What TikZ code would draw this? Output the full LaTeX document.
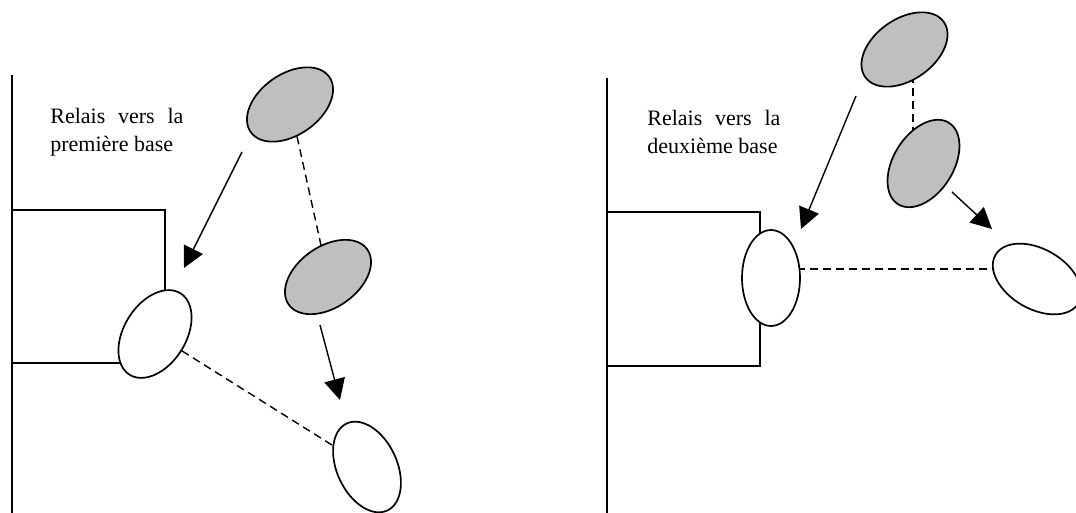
\documentclass[tikz,border=0pt]{standalone}
\usepackage{fontspec}
\setmainfont{Liberation Serif}
\usetikzlibrary{shapes.geometric,arrows.meta,backgrounds}

\begin{document}
\begin{tikzpicture}[x=0.5pt, y=-0.5pt,
  every node/.style={inner sep=0pt},
  obj/.style={draw, ellipse, line width=0.85pt, minimum width=48pt, minimum height=30.5pt},
  busy/.style={obj, fill=gray!50},
  free/.style={obj, fill=white},
  wall/.style={line width=0.7pt},
  link/.style={line width=0.7pt, dash pattern=on 4pt off 2.5pt},
  move/.style={line width=0.7pt, -{Triangle[length=10.5pt, width=10.5pt]}},
  note/.style={text width=66.5pt, align=justify, anchor=north west,
    font={\fontsize{11}{14}\selectfont\tolerance=9999\hbadness=10000}}]
\useasboundingbox (0,0) rectangle (1076,513);
% first base
\draw[wall] (12,75) -- (12,513);
\draw[wall] (12,210) rectangle (165,363);
\node[note] (txt1) at (50,108) {Relais vers la première base};
\node[busy, rotate=35] (g1) at (290,104.5) {};
\node[busy, rotate=35] (g2) at (328,277) {};
\node[free, rotate=58, minimum height=31pt] (w1) at (155,334) {};
\node[free, rotate=-65, minimum height=30pt] (w3) at (367,467) {};
\coordinate (s1) at (242,152);
\coordinate (e1) at (184,268);
\coordinate (s2) at (320,325);
\coordinate (e2) at (340,400);
\draw[move] (s1) -- (e1);
\draw[move] (s2) -- (e2);
\draw[link] (g1) -- (g2);
\draw[link] (w1) -- (w3);
% second base
\draw[wall] (607,78) -- (607,513);
\draw[wall] (607,212) rectangle (760,366);
\node[note] (txt2) at (647,110) {Relais vers la deuxième base};
\node[busy, rotate=35] (g3) at (904.5,49.5) {};
\node[busy, rotate=58, minimum height=30pt] (g4) at (923.5,163.5) {};
\node[free, minimum width=29pt, minimum height=48pt] (w2) at (771,278) {};
\node[free, rotate=-30, minimum height=30pt] (w4) at (1037,279) {};
\coordinate (s3) at (856,96);
\coordinate (e3) at (801,229);
\coordinate (s4) at (952,192);
\coordinate (e4) at (992,229);
\draw[move] (s3) -- (e3);
\draw[move] (s4) -- (e4);
\begin{pgfonlayer}{background}
\draw[link] ([xshift=4.25pt]g3.center) -- ([xshift=4.25pt]g3.center |- g4.center);
\draw[link] ([yshift=4.5pt]w2.center) -- ([yshift=4.5pt]w2.center -| w4.center);
\end{pgfonlayer}
\end{tikzpicture}
\end{document}
